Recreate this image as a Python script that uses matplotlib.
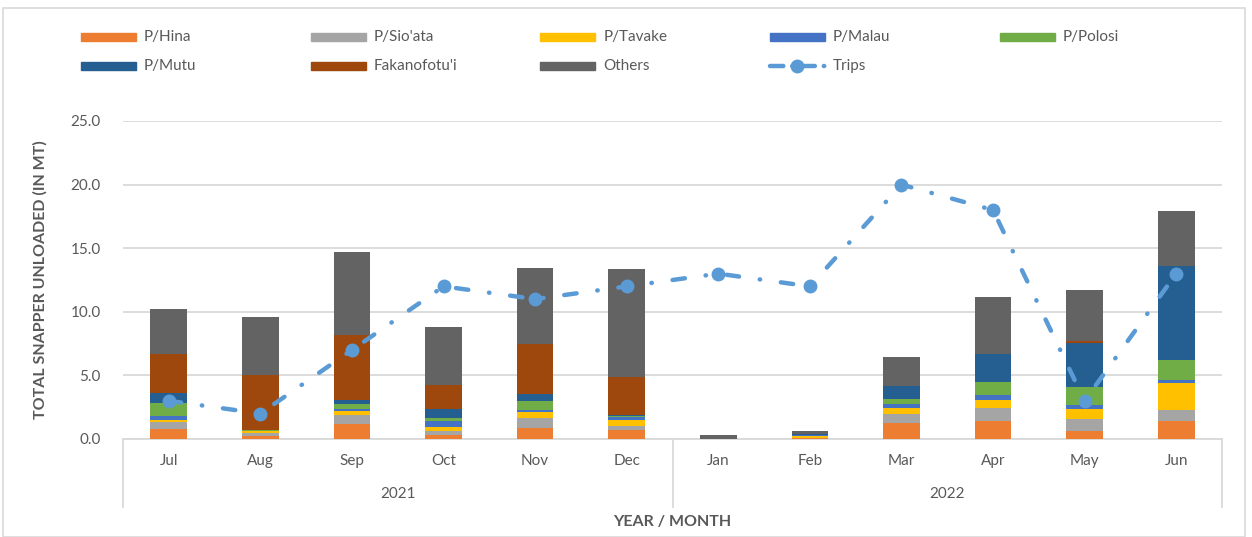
import matplotlib
matplotlib.use("Agg")
import matplotlib.pyplot as plt
import numpy as np
from matplotlib.patches import Rectangle
from matplotlib.lines import Line2D
import matplotlib.transforms as mtransforms

plt.rcParams['font.family'] = ['Lato', 'DejaVu Sans']

# data (MT per month)
months = ['Jul', 'Aug', 'Sep', 'Oct', 'Nov', 'Dec', 'Jan', 'Feb', 'Mar', 'Apr', 'May', 'Jun']
years = ['2021', '2022']
hina   = [0.76, 0.26, 1.16, 0.31, 0.86, 0.73, 0.00, 0.08, 1.28, 1.44, 0.60, 1.44]
sioata = [0.60, 0.24, 0.73, 0.32, 0.82, 0.29, 0.00, 0.02, 0.66, 1.02, 0.97, 0.86]
tavake = [0.16, 0.10, 0.34, 0.31, 0.42, 0.50, 0.00, 0.15, 0.52, 0.58, 0.81, 2.13]
malau  = [0.31, 0.03, 0.13, 0.48, 0.18, 0.20, 0.00, 0.03, 0.29, 0.39, 0.29, 0.23]
polosi = [1.00, 0.05, 0.42, 0.23, 0.71, 0.10, 0.00, 0.03, 0.37, 1.07, 1.39, 1.55]
mutu   = [0.79, 0.05, 0.29, 0.68, 0.57, 0.04, 0.00, 0.05, 1.02, 2.21, 3.51, 7.39]
fakanofotui = [3.09, 4.29, 5.08, 1.89, 3.88, 3.00, 0.00, 0.00, 0.00, 0.00, 0.16, 0.00]
others = [3.51, 4.56, 6.55, 4.61, 6.00, 8.49, 0.30, 0.27, 2.28, 4.48, 3.98, 4.32]
trips  = [3, 2, 7, 12, 11, 12, 13, 12, 20, 18, 3, 13]

series = [hina, sioata, tavake, malau, polosi, mutu, fakanofotui, others]
names = ['P/Hina', "P/Sio'ata", 'P/Tavake', 'P/Malau', 'P/Polosi', 'P/Mutu', "Fakanofotu'i", 'Others']
colors = ['#ED7D31', '#A5A5A5', '#FFC000', '#4472C4', '#70AD47', '#255E91', '#9E480E', '#636363']
trip_color = '#5B9BD5'
grey_txt = '#595959'
grid_col = '#D9D9D9'

W, H = 1252, 537
def fx(px):
    return px / W
def fy(py):
    return 1 - py / H

fig = plt.figure(figsize=(12.52, 5.37), dpi=100)
fig.patches.append(Rectangle((fx(3), 0), fx(1245) - fx(3), fy(8), transform=fig.transFigure,
                             fill=False, edgecolor=grid_col, lw=1.2))
ax = fig.add_axes([fx(123), fy(439), fx(1222) - fx(123), fy(121) - fy(439)])

x = np.arange(len(months))
bottom = np.zeros(len(months))
for vals, c in zip(series, colors):
    ax.bar(x, vals, 0.4, bottom=bottom, color=c, zorder=2)
    bottom += np.array(vals)

# trips: long dash - dot line with round caps
dash = (0, (2.8, 4.7, 0.1, 4.7))
ax.plot(x, trips, color=trip_color, lw=3.2, linestyle=dash, dash_capstyle='round', zorder=3)
ax.plot(x, trips, 'o', color=trip_color, ms=9, zorder=4)

ax.set_xlim(-0.5, len(months) - 0.5)
ax.set_ylim(0, 25)
ax.set_yticks(np.arange(0, 26, 5))
ax.set_yticklabels(['%.1f' % v for v in np.arange(0, 26, 5)])
ax.set_xticks(x, months)
ax.tick_params(axis='both', length=0, colors=grey_txt, labelsize=11)
ax.tick_params(axis='x', pad=11)
ax.tick_params(axis='y', pad=16)
ax.grid(axis='y', color=grid_col, lw=1.3, zorder=0)
for s in ['top', 'right', 'left']:
    ax.spines[s].set_visible(False)
ax.spines['bottom'].set_color(grid_col)
ax.spines['bottom'].set_linewidth(1.3)
ax.spines['bottom'].set_zorder(1)

ax.set_ylabel('TOTAL SNAPPER UNLOADED (IN MT)', fontsize=11.5, fontweight='bold', color=grey_txt)
ax.yaxis.set_label_coords(-0.069, 0.5)

# two-level category axis
bt = mtransforms.blended_transform_factory(ax.transData, fig.transFigure)
for sx in [-0.5, 5.5, 11.5]:
    fig.add_artist(Line2D([sx, sx], [fy(439), fy(507)], transform=bt, color=grid_col, lw=1.3))
ax.text(2.5, fy(494), years[0], transform=bt, ha='center', va='center', fontsize=11, color=grey_txt)
ax.text(8.5, fy(494), years[1], transform=bt, ha='center', va='center', fontsize=11, color=grey_txt)
fig.text(fx(672), fy(522), 'YEAR / MONTH', ha='center', va='center', fontsize=11.5,
         fontweight='bold', color=grey_txt)

# legend laid out like excel's (row by row, fixed column width)
labels = names[:5] + names[5:] + ['Trips']
for i, lab in enumerate(labels):
    row, col = divmod(i, 5)
    x0 = 81 + col * 229.7
    yc = 37 + row * 29
    if lab == 'Trips':
        fig.add_artist(Line2D([fx(x0), fx(x0 + 55)], [fy(yc), fy(yc)], transform=fig.transFigure,
                              color=trip_color, lw=3.2, linestyle=(0, (3, 2, 0.1, 2)),
                              dash_capstyle='round'))
        fig.add_artist(Line2D([fx(x0 + 27)], [fy(yc)], transform=fig.transFigure, marker='o',
                              ms=9, color=trip_color, lw=0))
    else:
        fig.patches.append(Rectangle((fx(x0), fy(yc + 4)), fx(55), 8 / H, transform=fig.transFigure,
                                     color=colors[names.index(lab)]))
    fig.text(fx(x0 + 63), fy(yc), lab, ha='left', va='center', fontsize=11, color=grey_txt)

fig.savefig('out.png', dpi=100)
